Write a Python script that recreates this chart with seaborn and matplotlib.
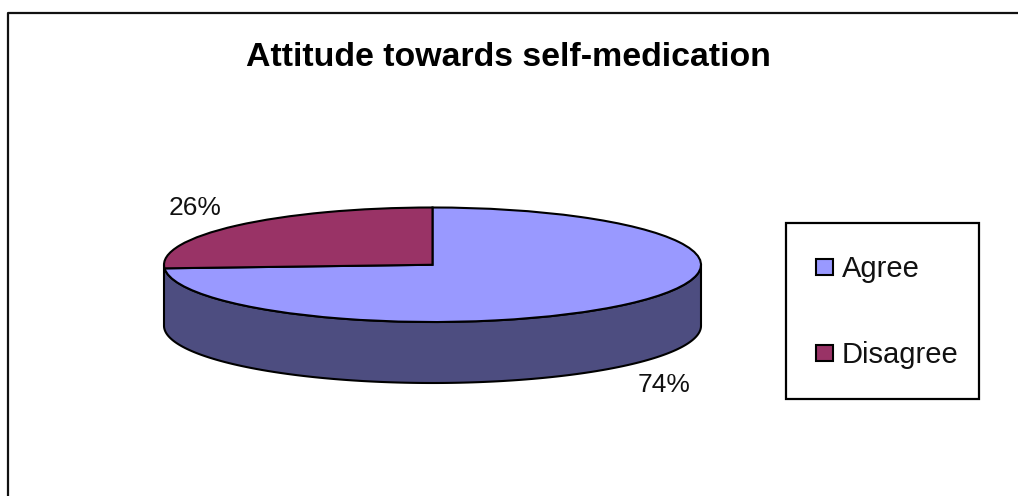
import numpy as np
import matplotlib
matplotlib.use("Agg")
import matplotlib.pyplot as plt
from matplotlib.patches import Rectangle, Polygon
import seaborn as sns

title = "Attitude towards self-medication"
categories = ["Agree", "Disagree"]
values = [74, 26]
colors = ["#9999FF", "#993366"]
wall_color = "#4D4D80"

W, H = 1018, 496
sns.set_theme(style="white")
plt.rcParams["font.family"] = ["Liberation Sans", "DejaVu Sans"]
sns.set_palette(colors)

fig = plt.figure(figsize=(W / 100, H / 100), dpi=100, facecolor="white")

# full-figure layer in pixel coordinates for the outer frame and texts
bg = fig.add_axes([0, 0, 1, 1])
bg.set_xlim(0, W)
bg.set_ylim(H, 0)
bg.axis("off")
bg.plot([8.5, 8.5, W + 5], [H + 5, 12.5, 12.5], color="#111111", lw=1.6, clip_on=False)
bg.text(508, 57.5, title, ha="center", va="center", fontsize=24.4,
        fontweight="bold", color="black")

# squashed pie
left, right, top, bottom = 164, 701, 207.5, 322
depth = 61 / ((bottom - top) / 2)
ax = fig.add_axes([left / W, 1 - bottom / H, (right - left) / W, (bottom - top) / H])
wedges, _ = ax.pie(values, colors=sns.color_palette(n_colors=2), startangle=90,
                   counterclock=False, radius=1,
                   wedgeprops=dict(edgecolor="black", linewidth=1.5, clip_on=False, zorder=3))
ax.set_aspect("auto")
ax.set_xlim(-1, 1)
ax.set_ylim(-1, 1)
t = np.linspace(np.pi, 2 * np.pi, 200)
x, y = np.cos(t), np.sin(t)
wall = np.column_stack([np.r_[x, x[::-1]], np.r_[y, y[::-1] - depth]])
ax.add_patch(Polygon(wall, closed=True, facecolor=wall_color, edgecolor="black",
                     linewidth=1.5, clip_on=False, zorder=2))

# percentage labels
label_pos = [(664.5, 385), (195, 208)]
for v, (px, py) in zip(values, label_pos):
    bg.text(px, py, f"{v}%", ha="center", va="center", fontsize=19, color="#111111")
bg.set_zorder(5)
bg.patch.set_alpha(0)

# legend
bg.add_patch(Rectangle((786, 223), 193, 176, facecolor="white", edgecolor="black",
                       linewidth=1.6, zorder=1))
leg = bg.legend(wedges, categories, loc="upper left",
                bbox_to_anchor=(816 / W, 1 - 255 / H), bbox_transform=fig.transFigure,
                frameon=False, fontsize=21, labelcolor="#111111",
                borderaxespad=0, borderpad=0,
                labelspacing=2.0, handlelength=0.58, handleheight=0.46,
                handletextpad=0.31)
fig.savefig("out.png", dpi=100, facecolor="white")
